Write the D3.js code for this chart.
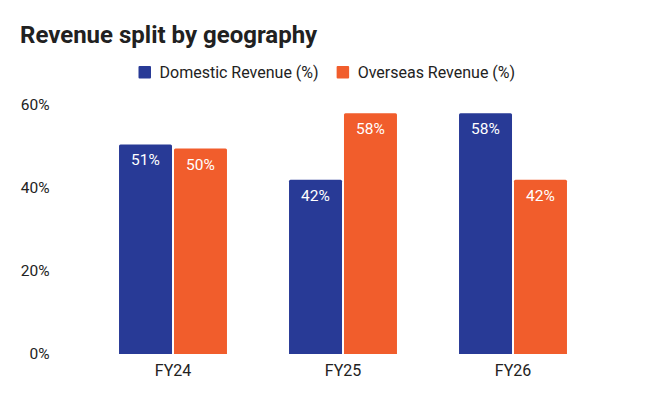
<!DOCTYPE html>
<html>
<head>
<meta charset="utf-8">
<script src="https://cdn.jsdelivr.net/npm/d3@7"></script>
<style>
  body { margin: 0; background: #fff; }
  svg text { font-family: Roboto, "Noto Sans", sans-serif; }
</style>
</head>
<body>
<svg id="chart" width="648" height="401"></svg>
<script>
const categories = ['FY24', 'FY25', 'FY26'];
const seriesNames = ['Domestic Revenue (%)', 'Overseas Revenue (%)'];
const domestic = [50.5, 42, 58];
const overseas = [49.5, 58, 42];
const yTicks = [0, 20, 40, 60];

const colors = ['#283a96', '#f15d2c'];

const svg = d3.select('#chart');
const margin = { left: 88, right: 50, top: 105, bottom: 47 };
const width = 648 - margin.left - margin.right;
const height = 401 - margin.top - margin.bottom;

const rows = categories.map((c, i) => ({ cat: c, values: [domestic[i], overseas[i]] }));

// title
svg.append('text')
  .attr('x', 20).attr('y', 43)
  .attr('font-size', 24).attr('font-weight', 700)
  .attr('fill', '#212121')
  .text('Revenue split by geography');

// legend
const legend = svg.append('g').attr('transform', 'translate(138.5, 66)');
let lx = 0;
seriesNames.forEach((name, i) => {
  const g = legend.append('g').attr('transform', `translate(${lx}, 0)`);
  g.append('rect').attr('width', 12.5).attr('height', 12.5).attr('rx', 1).attr('fill', colors[i]);
  const t = g.append('text')
    .attr('x', 21).attr('y', 11.8)
    .attr('font-size', 16).attr('fill', '#222')
    .text(name);
  lx += 21 + t.node().getComputedTextLength() + 18;
});

const chart = svg.append('g').attr('transform', `translate(${margin.left}, ${margin.top})`);

// band centres sit at step * (i + 0.5)
const xScale = d3.scaleBand()
  .domain(categories)
  .range([0, width])
  .paddingInner(0.365)
  .paddingOuter(0.1825);

const xInner = d3.scaleBand()
  .domain([0, 1])
  .range([0, xScale.bandwidth()])
  .paddingInner(0.036);

const yScale = d3.scaleLinear()
  .domain([0, 60])
  .range([height, 0]);

// y axis labels
const yAxis = d3.axisLeft(yScale)
  .tickValues(yTicks)
  .tickSize(0)
  .tickPadding(0)
  .tickFormat(d => d + '%');

chart.append('g')
  .attr('transform', `translate(${49.5 - margin.left}, 0)`)
  .call(yAxis)
  .call(g => g.select('.domain').remove())
  .selectAll('text')
    .attr('font-size', 15.5)
    .attr('fill', '#222')
    .attr('font-family', 'Roboto, sans-serif');

// x axis labels
const xAxis = d3.axisBottom(xScale).tickSize(0).tickPadding(11);
chart.append('g')
  .attr('transform', `translate(0, ${height})`)
  .call(xAxis)
  .call(g => g.select('.domain').remove())
  .selectAll('text')
    .attr('font-size', 16)
    .attr('fill', '#222')
    .attr('font-family', 'Roboto, sans-serif');

// bars
const groups = chart.append('g').attr('class', 'g-chart-bars')
  .selectAll('g')
  .data(rows)
  .enter()
  .append('g')
    .attr('transform', d => `translate(${xScale(d.cat)}, 0)`);

groups.selectAll('path')
  .data(d => d.values.map((v, i) => ({ v, i })))
  .enter()
  .append('path')
    .attr('fill', d => colors[d.i])
    .attr('d', d => {
      const x0 = xInner(d.i);
      const w = xInner.bandwidth();
      const y0 = yScale(d.v);
      const r = 1.5;
      return `M${x0},${height}V${y0 + r}Q${x0},${y0} ${x0 + r},${y0}H${x0 + w - r}Q${x0 + w},${y0} ${x0 + w},${y0 + r}V${height}Z`;
    });

groups.selectAll('text')
  .data(d => d.values.map((v, i) => ({ v, i })))
  .enter()
  .append('text')
    .attr('x', d => xInner(d.i) + xInner.bandwidth() / 2)
    .attr('y', d => yScale(d.v) + 21)
    .attr('text-anchor', 'middle')
    .attr('font-size', 15.5)
    .attr('fill', '#fff')
    .text(d => Math.round(d.v) + '%');
</script>
</body>
</html>
